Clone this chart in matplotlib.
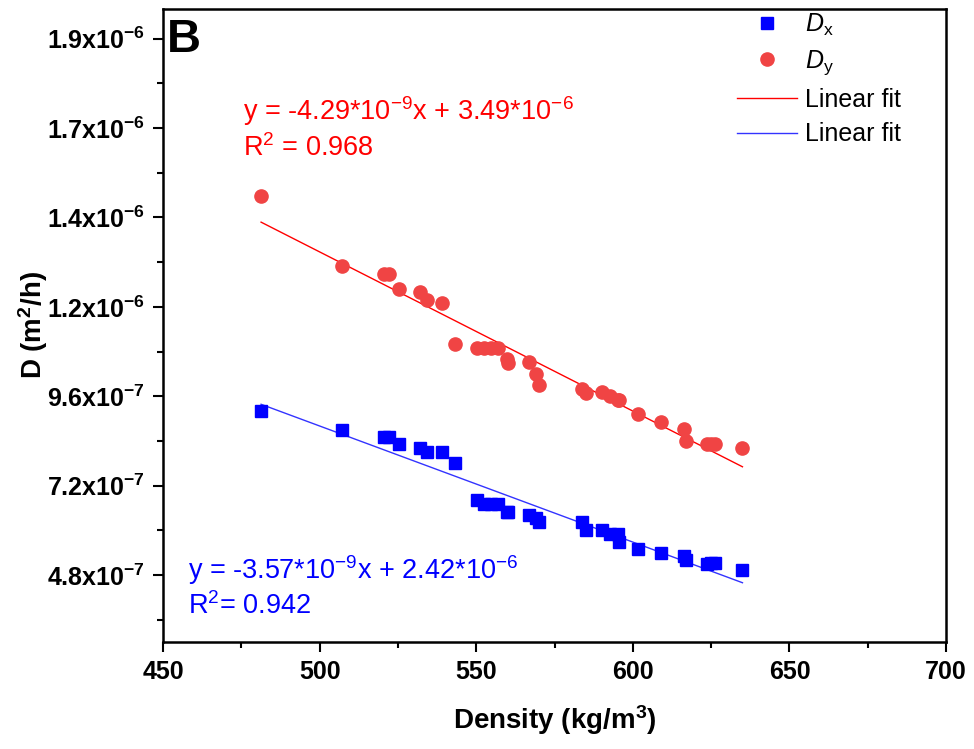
import numpy as np
import matplotlib
matplotlib.use("Agg")
import matplotlib.pyplot as plt
from matplotlib.ticker import MultipleLocator, FuncFormatter

plt.rcParams['font.family'] = ['Liberation Sans', 'DejaVu Sans']
plt.rcParams['mathtext.fontset'] = 'custom'
plt.rcParams['mathtext.rm'] = 'Liberation Sans'
plt.rcParams['mathtext.it'] = 'Liberation Sans:italic'
plt.rcParams['mathtext.bf'] = 'Liberation Sans:bold'

# density (kg/m3) and diffusion coefficients (m2/h)
density = [481.3, 507.2, 520.7, 522.2, 525.4, 532.1, 534.2, 539.2, 543.2, 550.3,
           552.4, 554.8, 556.8, 559.8, 560.2, 566.7, 569.1, 570.1, 583.8, 585.1,
           590.1, 592.6, 595.4, 595.6, 601.6, 609.1, 616.4, 617.1, 623.7, 625.0,
           626.3, 635.0]
Dy = [1.499e-6, 1.310e-6, 1.288e-6, 1.288e-6, 1.249e-6, 1.240e-6, 1.219e-6, 1.210e-6,
      1.100e-6, 1.089e-6, 1.089e-6, 1.089e-6, 1.089e-6, 1.061e-6, 1.049e-6, 1.051e-6,
      1.021e-6, 0.989e-6, 0.980e-6, 0.969e-6, 0.972e-6, 0.960e-6, 0.951e-6, 0.951e-6,
      0.911e-6, 0.890e-6, 0.871e-6, 0.839e-6, 0.831e-6, 0.831e-6, 0.831e-6, 0.820e-6]
Dx = [9.20e-7, 8.69e-7, 8.50e-7, 8.50e-7, 8.31e-7, 8.21e-7, 8.10e-7, 8.10e-7,
      7.80e-7, 6.82e-7, 6.71e-7, 6.71e-7, 6.71e-7, 6.49e-7, 6.49e-7, 6.41e-7,
      6.33e-7, 6.22e-7, 6.21e-7, 6.01e-7, 6.01e-7, 5.90e-7, 5.90e-7, 5.69e-7,
      5.50e-7, 5.39e-7, 5.32e-7, 5.21e-7, 5.09e-7, 5.11e-7, 5.13e-7, 4.92e-7]

x = np.array(density)
xfit = np.array([x.min(), x.max()])
py = np.polyfit(x, Dy, 1)
px = np.polyfit(x, Dx, 1)

fig = plt.figure(figsize=(9.74, 7.49), dpi=100)
ax = fig.add_axes([0.1674, 0.1429, 0.8039, 0.8451])

ax.plot(x, Dx, 's', color='#0000ff', markersize=8.5, label=r'$\mathit{D}_\mathrm{x}$', zorder=3)
ax.plot(x, Dy, 'o', color='#f04444', markersize=9.5, label=r'$\mathit{D}_\mathrm{y}$', zorder=3)
ax.plot(xfit, np.polyval(py, xfit), color='#ff0000', lw=1, label='Linear fit')
ax.plot(xfit, np.polyval(px, xfit), color='#3333ff', lw=1, label='Linear fit')

ax.set_xlim(450, 700)
ax.set_ylim(3.0e-7, 2.0e-6)
ax.xaxis.set_major_locator(MultipleLocator(50))
ax.xaxis.set_minor_locator(MultipleLocator(25))
ax.yaxis.set_major_locator(MultipleLocator(2.4e-7))
ax.yaxis.set_minor_locator(MultipleLocator(1.2e-7))


def sci(v, pos):
    e = int(np.floor(np.log10(v)))
    return r'%.1fx10$^{\mathbf{%d}}$' % (v / 10**e, e)


ax.yaxis.set_major_formatter(FuncFormatter(sci))
ax.tick_params(which='major', direction='out', length=7, width=1.5, labelsize=18, pad=6)
ax.tick_params(which='minor', direction='out', length=4, width=1.5)
for lab in ax.get_xticklabels() + ax.get_yticklabels():
    lab.set_fontweight('bold')
for sp in ax.spines.values():
    sp.set_linewidth(1.8)

ax.set_xlabel(r'Density (kg/m$^\mathbf{3}$)', fontsize=20, fontweight='bold', labelpad=14)
ax.set_ylabel(r'D (m$^\mathbf{2}$/h)', fontsize=20, fontweight='bold', labelpad=-2)

ax.text(0.005, 0.985, 'B', transform=ax.transAxes, fontsize=34, fontweight='bold',
        va='top', ha='left')
ax.text(475.5, 1.68e-6, r'y = -4.29*10$^{-9}$x + 3.49*10$^{-6}$' + '\n' + r'R$^2$ = 0.968',
        color='#ff0000', fontsize=19.5, va='center', linespacing=1.25)
ax.text(458, 4.48e-7, r'y = -3.57*10$^{-9}$x + 2.42*10$^{-6}$' + '\n' + r'R$^2$= 0.942',
        color='#0000ff', fontsize=19.5, va='center', linespacing=1.25)

ax.legend(loc='upper right', frameon=False, fontsize=18, handlelength=2.4,
          handletextpad=0.3, borderaxespad=0.1, labelspacing=0.42,
          bbox_to_anchor=(0.958, 1.015))

fig.savefig('out.png', dpi=100)
